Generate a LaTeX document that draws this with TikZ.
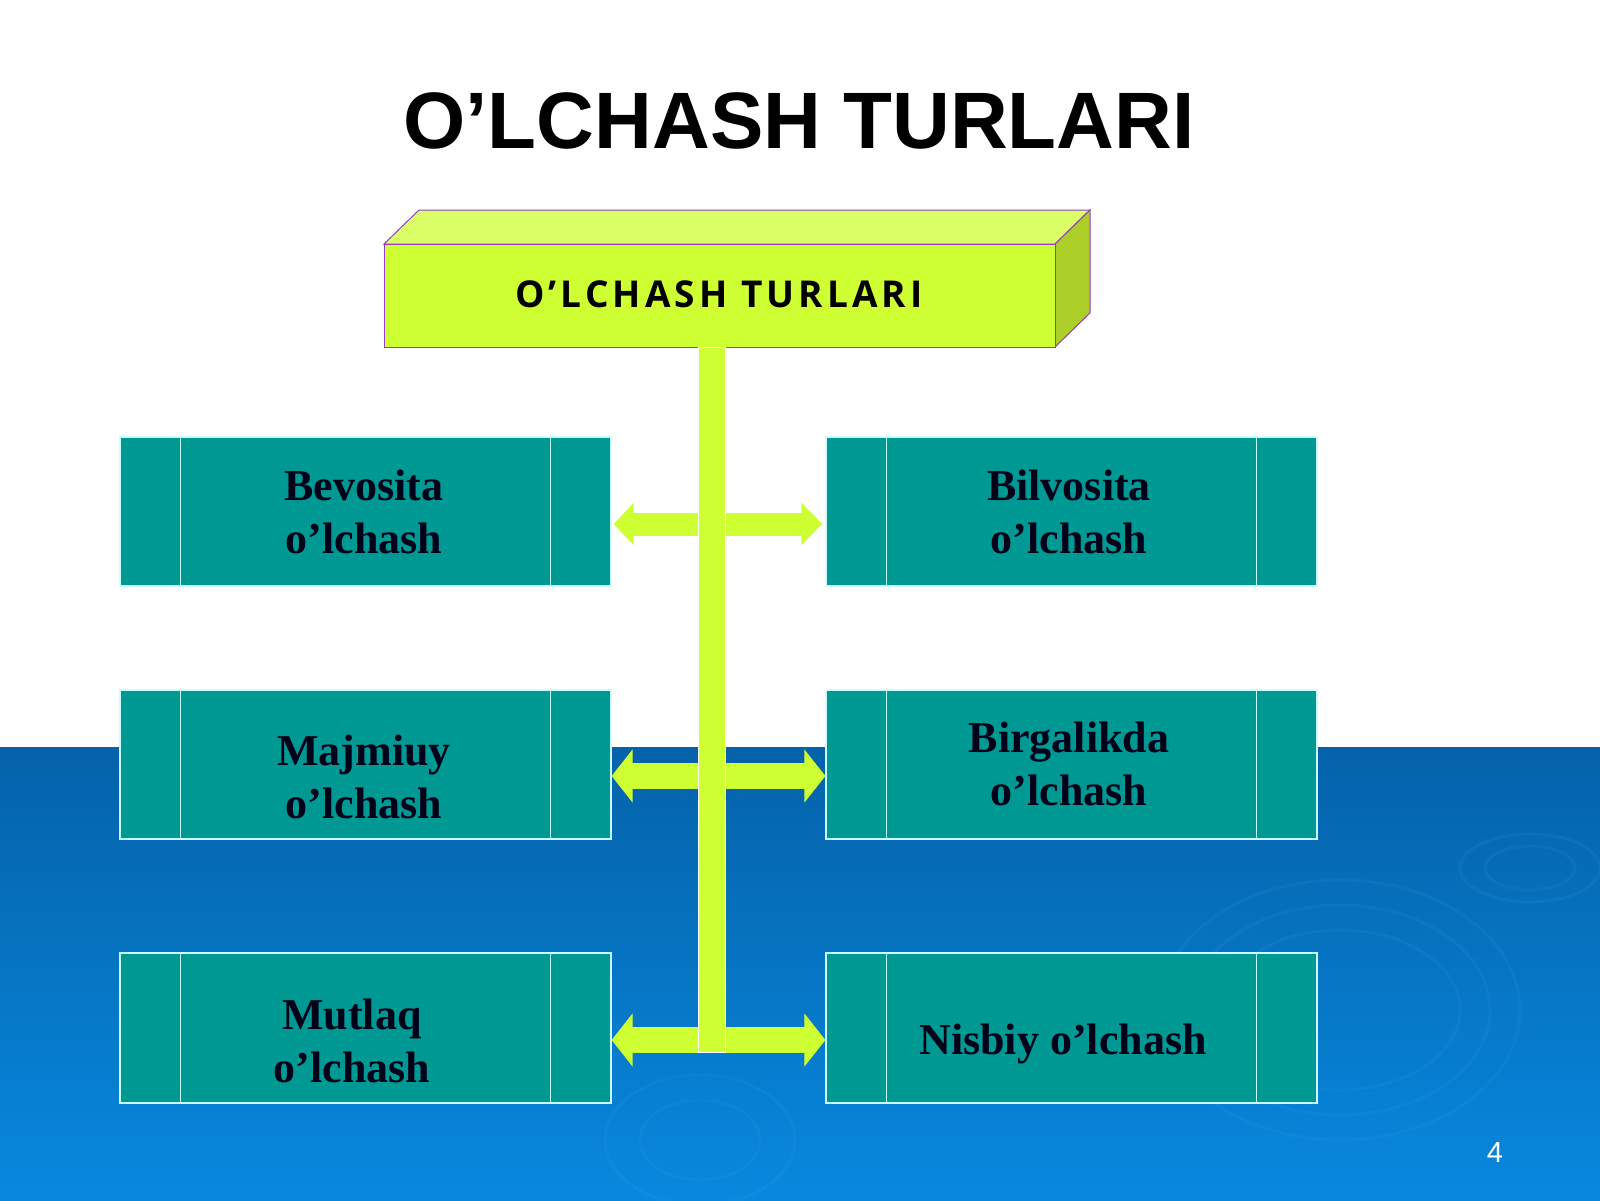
\documentclass[tikz,border=0pt]{standalone}
\usepackage{fontspec}
\setmainfont{Liberation Serif}
\newfontfamily\titlefont{Liberation Sans}
\newfontfamily\boxfont[LetterSpace=11]{Open Sans}
\usetikzlibrary{arrows.meta}
\definecolor{limeF}{RGB}{206,255,51}
\definecolor{limeT}{RGB}{218,255,102}
\definecolor{limeS}{RGB}{172,206,40}
\definecolor{purp}{RGB}{150,60,200}
\definecolor{tealB}{RGB}{0,152,146}
\definecolor{edgeB}{RGB}{200,255,255}
\definecolor{blueA}{RGB}{5,98,170}
\definecolor{blueB}{RGB}{8,136,222}
\definecolor{ripple}{RGB}{60,160,235}
\tikzset{
  tbox/.style={draw=edgeB, line width=1.2pt, fill=tealB, minimum width=491pt, minimum height=149pt, inner sep=0pt},
  ttext/.style={font=\fontsize{44}{53}\selectfont\bfseries, text=black!90!blue, align=center, anchor=base},
  arrA/.style={limeF, line width=23pt, line cap=butt, {Triangle[length=20pt,width=41pt]}-{Triangle[length=21pt,width=41pt]}},
  arrB/.style={limeF, line width=26pt, line cap=butt, {Triangle[length=21pt,width=52pt]}-{Triangle[length=21pt,width=52pt]}},
  rip/.style={draw=ripple, line width=3pt, opacity=0.12}
}
\begin{document}
\begin{tikzpicture}[x=1pt,y=-1pt]
\useasboundingbox (0,0) rectangle (1600,1200);
% background
\fill[white] (0,0) rectangle (1600,747);
\shade[top color=blueA, bottom color=blueB] (0,747) rectangle (1600,1200);
% ripples
\draw[rip] (1530,868) ellipse (45 and 22);
\draw[rip] (1530,868) ellipse (70 and 34);
\draw[rip] (1340,1010) ellipse (120 and 80);
\draw[rip] (1340,1010) ellipse (150 and 105);
\draw[rip] (1340,1010) ellipse (180 and 130);
\draw[rip] (700,1140) ellipse (60 and 40);
\draw[rip] (700,1140) ellipse (95 and 65);
% title
\node[font=\titlefont\fontsize{80}{92}\selectfont\bfseries, anchor=base] (title) at (799,148) {O’LCHASH TURLARI};
% top 3D box
\fill[limeT, draw=purp, line width=1pt] (384,244) -- (419,210) -- (1090,210) -- (1055,244) -- cycle;
\fill[limeS, draw=purp, line width=1pt] (1055,244) -- (1090,210) -- (1090,313) -- (1055,347) -- cycle;
\node[draw=purp, line width=1pt, fill=limeF, minimum width=671pt, minimum height=103pt, inner sep=0pt] (top) at (719.5,295.5) {};
\node[font=\boxfont\fontsize{37}{44}\selectfont\bfseries, anchor=base] (toptext) at (719,307) {O’LCHASH TURLARI};
% boxes
\node[tbox] (b1) at (365.5,511.5) {};
\node[tbox] (b2) at (1071.5,511.5) {};
\node[tbox] (b3) at (365.5,764.5) {};
\node[tbox] (b4) at (1071.5,764.5) {};
\node[tbox, minimum height=150pt] (b5) at (365.5,1028) {};
\node[tbox, minimum height=150pt] (b6) at (1071.5,1028) {};
\foreach \b in {b1,b2,b3,b4,b5,b6}{
  \draw[edgeB, line width=1.2pt] ([xshift=61pt]\b.north west) -- ([xshift=61pt]\b.south west);
  \draw[edgeB, line width=1.2pt] ([xshift=-61pt]\b.north east) -- ([xshift=-61pt]\b.south east);
}
\node[ttext] at (364,553) {Bevosita\\o’lchash};
\node[ttext] at (1069,553) {Bilvosita\\o’lchash};
\node[ttext] at (364,818) {Majmiuy\\o’lchash};
\node[ttext] at (1069,805) {Birgalikda\\o’lchash};
\node[ttext] at (352,1082) {Mutlaq\\o’lchash};
\node[ttext] at (1063,1054) {Nisbiy o’lchash};
% arrows
\draw[arrA] ([xshift=2pt]b1.east |- 0,524) -- ([xshift=-3pt]b2.west |- 0,524);
\draw[arrB] (b3.east |- 0,776) -- (b4.west |- 0,776);
\draw[arrB] (b5.east |- 0,1040) -- (b6.west |- 0,1040);
% vertical bar
\coordinate (bartop) at (698,347);
\coordinate (barbot) at (725,1052);
\filldraw[fill=limeF, draw=white, line width=0.8pt] (bartop) rectangle (barbot);
% page number
\node[font=\titlefont\fontsize{29}{34}\selectfont, text=white, anchor=base] (pg) at (1495,1162) {4};
\end{tikzpicture}
\end{document}
